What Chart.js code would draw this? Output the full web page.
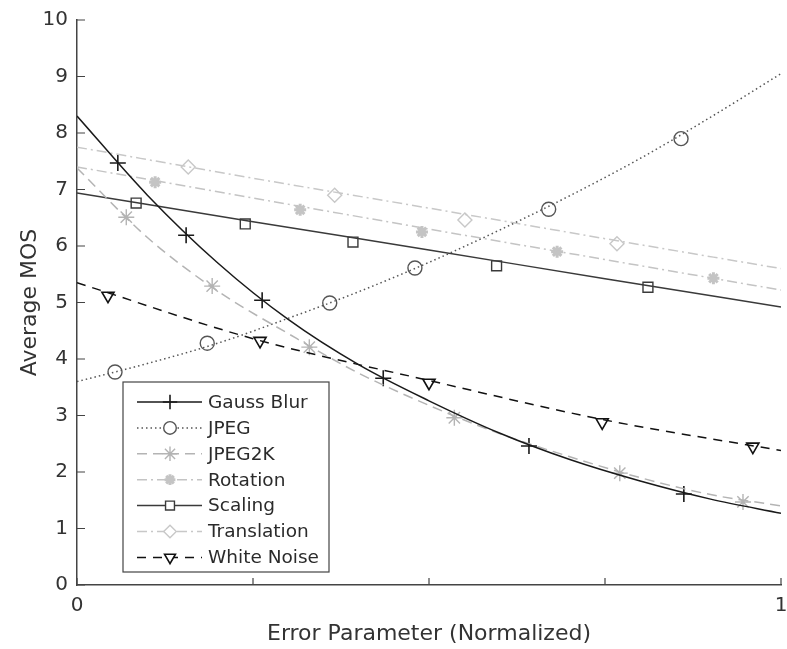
<!DOCTYPE html>
<html>
<head>
<meta charset="utf-8">
<script src="https://cdn.jsdelivr.net/npm/chart.js@4/dist/chart.umd.min.js"></script>
<style>
html,body{margin:0;padding:0;background:#fff;}
#wrap{width:787px;height:649px;}
</style>
</head>
<body>
<div id="wrap"><canvas id="mosChart"></canvas></div>
<script>
/* ---------- data ---------- */

const seriesNames = ["Gauss Blur","JPEG","JPEG2K","Rotation","Scaling","Translation","White Noise"];

// tick positions / labels
const xTicks = [0,0.25,0.5,0.75,1];
const xTickLabels = ["0","","","","1"];
const yTicks = [0,1,2,3,4,5,6,7,8,9,10];

// measured points (markers)
const blurX  = [0.058,0.155,0.263,0.435,0.642,0.862];
const blurY  = [7.47,6.19,5.04,3.66,2.46,1.61];
const jpegX  = [0.054,0.185,0.359,0.48,0.67,0.858];
const jpegY  = [3.77,4.28,4.99,5.61,6.65,7.9];
const j2kX   = [0.07,0.192,0.33,0.536,0.771,0.946];
const j2kY   = [6.51,5.29,4.21,2.96,1.98,1.47];
const rotX   = [0.111,0.317,0.49,0.682,0.904];
const rotY   = [7.13,6.64,6.25,5.9,5.43];
const scaleX = [0.084,0.239,0.392,0.596,0.811];
const scaleY = [6.76,6.39,6.07,5.65,5.27];
const transX = [0.158,0.366,0.551,0.767];
const transY = [7.40,6.90,6.46,6.04];
const noiseX = [0.044,0.26,0.5,0.746,0.96];
const noiseY = [5.12,4.32,3.58,2.88,2.45];

// fitted curves
const fitX10 = [0,0.1,0.2,0.3,0.4,0.5,0.6,0.7,0.8,0.9,1];
const blurFit = [8.3,6.9,5.7,4.7,3.9,3.26,2.69,2.22,1.84,1.52,1.27];
const jpegFit = [3.6,3.92,4.28,4.72,5.19,5.71,6.28,6.89,7.55,8.28,9.05];
const j2kFit  = [7.38,6.15,5.2,4.45,3.75,3.18,2.68,2.27,1.9,1.6,1.4];
const fitX4 = [0,0.25,0.5,0.75,1];
const rotFit   = [7.4,6.85,6.3,5.76,5.22];
const scaleFit = [6.94,6.43,5.93,5.42,4.92];
const transFit = [7.75,7.2,6.67,6.13,5.6];
const noiseFit = [5.35,4.36,3.62,2.92,2.38];


/* ---------- styles ---------- */

const styles = [
  {color:"#1a1a1a", dash:[],          point:"cross",    radius:8, width:1.6, rot:0},
  {color:"#555555", dash:[1.5,3],     point:"circle",   radius:7, width:1.4, rot:0},
  {color:"#b4b4b4", dash:[10,6],      point:"star",     radius:8, width:1.4, rot:0},
  {color:"#c4c4c4", dash:[10,4,2,4],  point:"star",     radius:6, width:3,   rot:0},
  {color:"#3a3a3a", dash:[],          point:"rect",     radius:7, width:1.4, rot:0},
  {color:"#c8c8c8", dash:[10,4,2,4],  point:"rectRot",  radius:7, width:1.4, rot:0},
  {color:"#111111", dash:[9,7],       point:"triangle", radius:7, width:1.6, rot:180}
];

const pts = (xs,ys) => xs.map((x,i)=>({x:x,y:ys[i]}));

const curves = [
  pts(fitX10,blurFit), pts(fitX10,jpegFit), pts(fitX10,j2kFit),
  pts(fitX4,rotFit), pts(fitX4,scaleFit), pts(fitX4,transFit), pts(fitX4,noiseFit)
];
const markers = [
  pts(blurX,blurY), pts(jpegX,jpegY), pts(j2kX,j2kY),
  pts(rotX,rotY), pts(scaleX,scaleY), pts(transX,transY), pts(noiseX,noiseY)
];

const datasets = [];

curves.forEach((c,i)=>{
  const s = styles[i];
  datasets.push({
    type:"line",
    label:seriesNames[i],
    data:c,
    borderColor:s.color,
    borderWidth:1.5,
    borderDash:s.dash,
    pointRadius:0,
    fill:false,
    cubicInterpolationMode:"monotone"
  });
});

markers.forEach((m,i)=>{
  const s = styles[i];
  datasets.push({
    type:"scatter",
    label:seriesNames[i]+" pts",
    data:m,
    showLine:false,
    pointStyle:s.point,
    pointRadius:s.radius,
    pointRotation:s.rot,
    pointBorderColor:s.color,
    pointBackgroundColor:"rgba(0,0,0,0)",
    pointBorderWidth:s.width
  });
});


/* ---------- inward tick marks ---------- */

const innerTicks = {
  id:"innerTicks",
  afterDatasetsDraw(chart){
    const ctx = chart.ctx;
    const xs = chart.scales.x, ys = chart.scales.y;
    const a = chart.chartArea;
    ctx.save();
    ctx.strokeStyle = "#444";
    ctx.lineWidth = 1.2;
    ctx.beginPath();
    xTicks.forEach(v=>{
      const px = xs.getPixelForValue(v);
      ctx.moveTo(px,a.bottom);
      ctx.lineTo(px,a.bottom-7);
    });
    yTicks.forEach(v=>{
      const py = ys.getPixelForValue(v);
      ctx.moveTo(a.left,py);
      ctx.lineTo(a.left+8,py);
    });
    ctx.stroke();
    ctx.restore();
  }
};


/* ---------- legend box ---------- */

const boxLegend = {
  id:"boxLegend",
  afterDraw(chart){
    const ctx = chart.ctx;
    const a = chart.chartArea;
    const left = a.left + 46;
    const w = 206, h = 190;
    const top = a.bottom - 13 - h;

    ctx.save();
    ctx.fillStyle = "#fff";
    ctx.fillRect(left,top,w,h);
    ctx.strokeStyle = "#444";
    ctx.lineWidth = 1.2;
    ctx.setLineDash([]);
    ctx.strokeRect(left,top,w,h);

    ctx.font = "18.5px 'DejaVu Sans'";
    ctx.textBaseline = "middle";
    ctx.textAlign = "left";

    seriesNames.forEach((name,i)=>{
      const s = styles[i];
      const y = top + 20 + i*25.9;
      ctx.strokeStyle = s.color;
      ctx.lineWidth = 1.5;
      ctx.setLineDash(s.dash);
      ctx.beginPath();
      ctx.moveTo(left+14,y);
      ctx.lineTo(left+79,y);
      ctx.stroke();
      ctx.setLineDash([]);
      ctx.fillStyle = "#fff";
      ctx.lineWidth = s.width;
      Chart.helpers.drawPoint(ctx,{
        pointStyle:s.point,
        radius:s.radius*0.9,
        rotation:s.rot,
        borderWidth:s.width
      },left+47,y);
      ctx.fillStyle = "#2b2b2b";
      ctx.fillText(name,left+85,y+1);
    });
    ctx.restore();
  }
};


/* ---------- chart ---------- */

new Chart(
document.getElementById("mosChart"),
{
  data:{datasets:datasets},
  options:{
    responsive:true,
    maintainAspectRatio:false,
    animation:false,
    layout:{autoPadding:false,padding:{top:20,right:6,left:0,bottom:0}},
    plugins:{
      legend:{display:false},
      tooltip:{enabled:false}
    },
    scales:{
      x:{
        type:"linear",
        min:0,
        max:1,
        afterBuildTicks:(s)=>{ s.ticks = xTicks.map(v=>({value:v})); },
        afterFit:(s)=>{ s.height = 64; s.paddingRight = 0; s.paddingLeft = 0; },
        grid:{display:false,drawTicks:false},
        border:{display:true,color:"#444",width:1.5},
        ticks:{
          autoSkip:false,
          maxRotation:0,
          padding:9,
          color:"#333",
          font:{family:"DejaVu Sans",size:20},
          callback:(v,i)=>xTickLabels[i]
        },
        title:{
          display:true,
          text:"Error Parameter (Normalized)",
          color:"#333",
          font:{family:"DejaVu Sans",size:22},
          padding:{top:0,bottom:2}
        }
      },
      y:{
        type:"linear",
        min:0,
        max:10,
        afterBuildTicks:(s)=>{ s.ticks = yTicks.map(v=>({value:v})); },
        afterFit:(s)=>{ s.width = 77; s.paddingTop = 0; s.paddingBottom = 0; },
        grid:{display:false,drawTicks:false},
        border:{display:true,color:"#444",width:1.5},
        ticks:{
          padding:9,
          color:"#333",
          font:{family:"DejaVu Sans",size:20}
        },
        title:{
          display:true,
          text:"Average MOS",
          color:"#333",
          font:{family:"DejaVu Sans",size:22},
          padding:{top:17,bottom:0}
        }
      }
    }
  },
  plugins:[innerTicks,boxLegend]
}
);
</script>
</body>
</html>
